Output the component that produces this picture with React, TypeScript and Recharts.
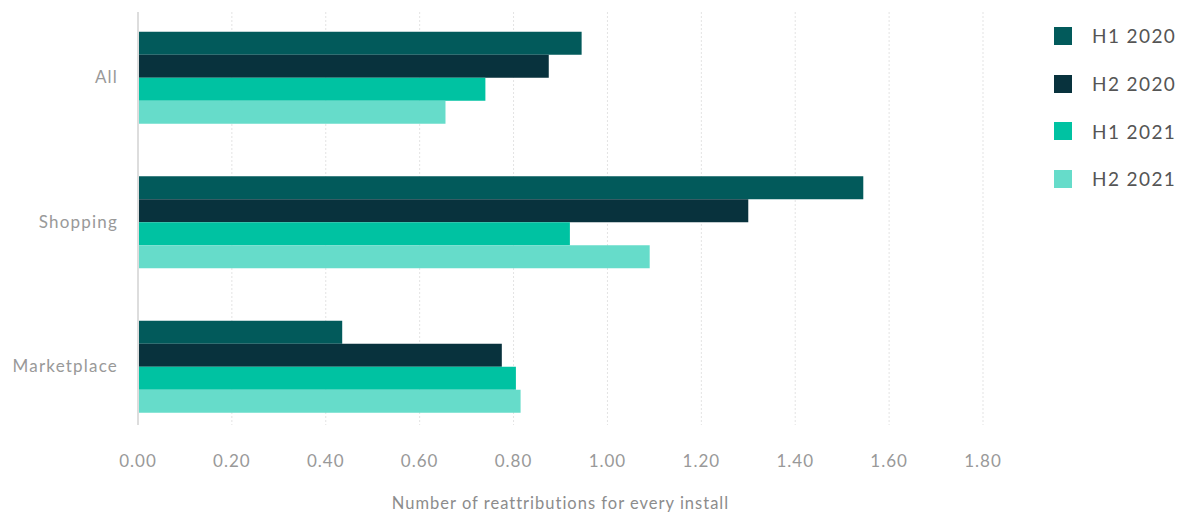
import React from "react";
import {
  BarChart,
  Bar,
  XAxis,
  YAxis,
  CartesianGrid,
  Legend,
} from "recharts";

const categories = ["All", "Shopping", "Marketplace"];
const h1_2020 = [0.945, 1.545, 0.435];
const h2_2020 = [0.875, 1.3, 0.775];
const h1_2021 = [0.74, 0.92, 0.805];
const h2_2021 = [0.655, 1.09, 0.815];
const xTicks = [0, 0.2, 0.4, 0.6, 0.8, 1.0, 1.2, 1.4, 1.6, 1.8];

const series = [
  { key: "h1_2020", name: "H1 2020", color: "#025a5b" },
  { key: "h2_2020", name: "H2 2020", color: "#08323d" },
  { key: "h1_2021", name: "H1 2021", color: "#00c2a2" },
  { key: "h2_2021", name: "H2 2021", color: "#66dcca" },
];

const data = categories.map((c, i) => ({
  category: c,
  h1_2020: h1_2020[i],
  h2_2020: h2_2020[i],
  h1_2021: h1_2021[i],
  h2_2021: h2_2021[i],
}));

const FONT = "Lato, 'Noto Sans', sans-serif";

// keep legend in series order (recharts sorts by name otherwise)
function LegendList(props: any) {
  const items = [...(props.payload || [])].sort(
    (a: any, b: any) =>
      series.findIndex((s) => s.name === a.value) -
      series.findIndex((s) => s.name === b.value)
  );
  return (
    <div style={{ fontFamily: FONT }}>
      {items.map((item: any, i: number) => (
        <div
          key={i}
          style={{ display: "flex", alignItems: "center", height: 47.7 }}
        >
          <span
            style={{
              display: "inline-block",
              width: 18,
              height: 18,
              background: item.color,
              marginRight: 20,
            }}
          />
          <span style={{ fontSize: 19, color: "#555", letterSpacing: 1.4 }}>
            {item.value}
          </span>
        </div>
      ))}
    </div>
  );
}

export default function App() {
  return (
    <div style={{ position: "absolute", left: 0, top: 0 }}>
      <BarChart
        width={1184}
        height={513}
        data={data}
        layout="vertical"
        margin={{ top: 12, right: 71, bottom: 0, left: 0 }}
        barCategoryGap={27}
        barGap={0}
      >
        <CartesianGrid
          horizontal={false}
          stroke="#e3e3e3"
          strokeDasharray="2 2"
        />
        <XAxis
          type="number"
          domain={[0, 1.8]}
          ticks={xTicks}
          tickFormatter={(v: number) => v.toFixed(2)}
          axisLine={false}
          tickLine={false}
          tickMargin={24}
          height={88}
          tick={{ fill: "#999", fontSize: 17, fontFamily: FONT, letterSpacing: 1 }}
          label={{
            value: "Number of reattributions for every install",
            position: "insideBottom",
            offset: 4,
            style: { fill: "#8c8c8c", fontSize: 16.5, fontFamily: FONT, letterSpacing: 1 },
          }}
        />
        <YAxis
          type="category"
          dataKey="category"
          width={138}
          padding={{ top: -7.25, bottom: -13.25 }}
          axisLine={{ stroke: "#dddddd", strokeWidth: 2 }}
          tickLine={false}
          tickMargin={14}
          tick={{ fill: "#999", fontSize: 17, fontFamily: FONT, letterSpacing: 1.2 }}
        />
        <Legend
          layout="horizontal"
          verticalAlign="middle"
          align="right"
          content={<LegendList />}
          wrapperStyle={{ left: 1054, top: 12, width: 130, right: "auto" }}
        />
        {series.map((s) => (
          <Bar
            key={s.key}
            dataKey={s.key}
            name={s.name}
            fill={s.color}
            isAnimationActive={false}
          />
        ))}
      </BarChart>
    </div>
  );
}
